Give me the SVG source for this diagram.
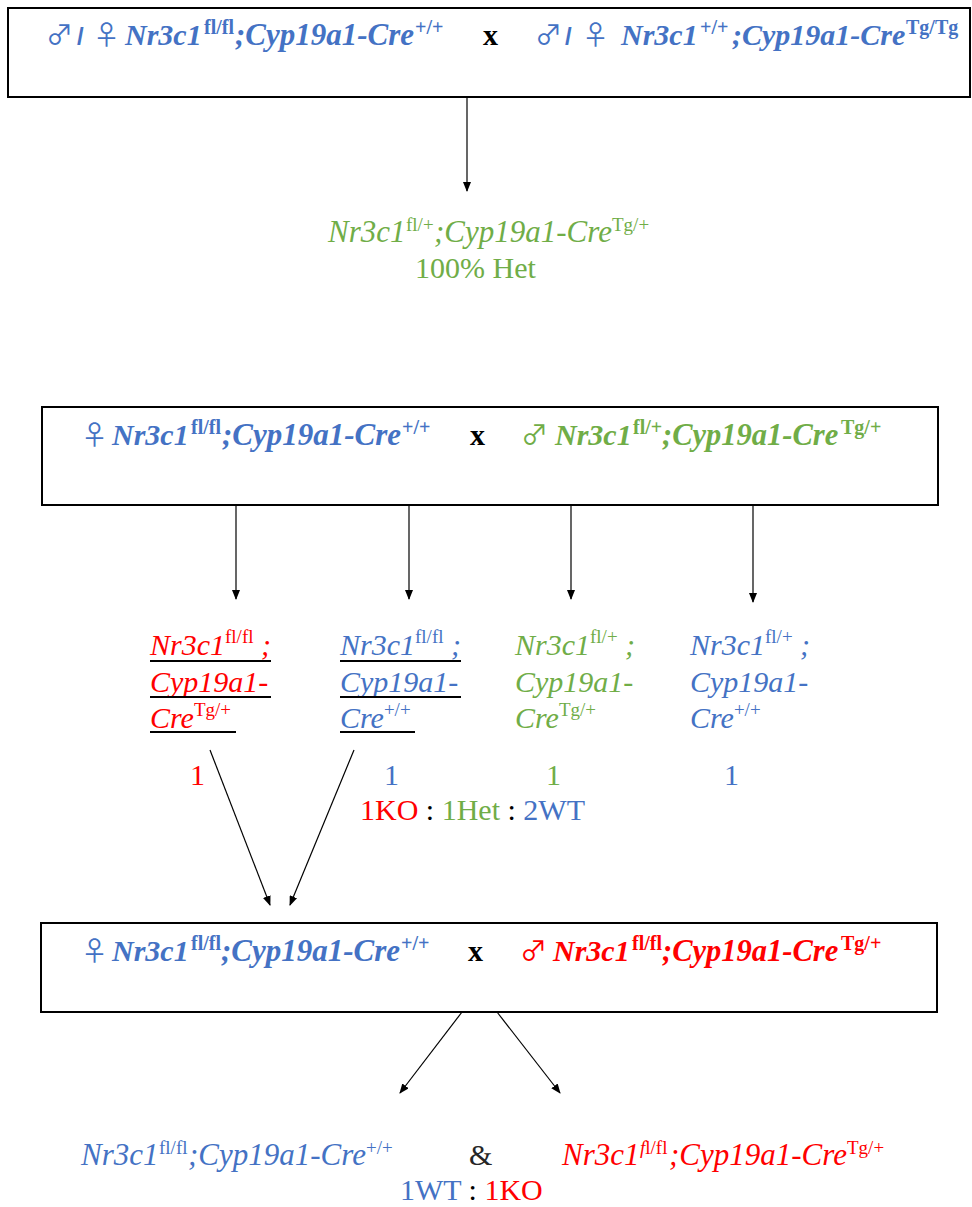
<svg xmlns="http://www.w3.org/2000/svg" width="972" height="1207" viewBox="0 0 972 1207">
<style>
.box{fill:#fff;stroke:#000;stroke-width:2}
.ln{stroke:#000;stroke-width:1.2;fill:none}
.t{font-family:"Liberation Serif","Times New Roman",serif;font-size:30px}
.h{font-size:31px}
.bi{font-weight:bold;font-style:italic}
.it{font-style:italic}
.b{font-weight:bold}
.sup{font-size:19px;font-style:normal}
.bsup{font-size:20px;font-style:normal;font-weight:bold}
.sym{font-family:"Noto Sans CJK SC","DejaVu Sans",sans-serif;font-size:27px;font-weight:normal;font-style:normal}
.sl{font-family:"Liberation Sans",Arial,sans-serif;font-size:24px;font-weight:bold;font-style:normal}
.blue{fill:#4472C4}
.green{fill:#70AD47}
.red{fill:#FF0000}
.blk{fill:#000}
.ul{stroke-width:2}
</style>
<defs>
<marker id="ah" markerWidth="10" markerHeight="8" refX="9" refY="4" orient="auto" markerUnits="userSpaceOnUse">
<path d="M0,0 L10,4 L0,8 Z" fill="#000"/>
</marker>
</defs>

<g id="cross1">
<rect class="box" x="8" y="8" width="962" height="89"/>
<text class="t blue"><tspan class="sym" x="46" y="45">♂</tspan><tspan class="sl" x="77" y="45">/</tspan><tspan class="sym" x="93" y="45">♀</tspan></text>
<text class="t bi blue"><tspan x="125" y="45">Nr3c1</tspan><tspan class="bsup" x="204" y="34">fl/fl</tspan><tspan x="235" y="45" font-size="31">;Cyp19a1-Cre</tspan><tspan class="bsup" x="415" y="34">+/+</tspan></text>
<text class="t b blk" x="483" y="45" font-size="26">x</text>
<text class="t blue"><tspan class="sym" x="535" y="45">♂</tspan><tspan class="sl" x="565" y="45">/</tspan><tspan class="sym" x="582" y="45">♀</tspan></text>
<text class="t bi blue"><tspan x="621" y="45">Nr3c1</tspan><tspan class="bsup" x="700" y="34">+/+</tspan><tspan x="732" y="45">;Cyp19a1-Cre</tspan><tspan class="bsup" x="906" y="34">Tg/Tg</tspan></text>
</g>

<g id="f1">
<text class="t h it green"><tspan x="328" y="242">Nr3c1</tspan><tspan class="sup" x="406" y="231">fl/+</tspan><tspan x="434" y="242">;Cyp19a1-Cre</tspan><tspan class="sup" x="612" y="231">Tg/+</tspan></text>
<text class="t green" x="415" y="278">100% Het</text>
</g>

<g id="cross2">
<rect class="box" x="42" y="407" width="896" height="98"/>
<text class="t blue"><tspan class="sym" x="81" y="445">♀</tspan></text>
<text class="t bi blue"><tspan x="112" y="445">Nr3c1</tspan><tspan class="bsup" x="191" y="434">fl/fl</tspan><tspan x="222" y="445" font-size="31">;Cyp19a1-Cre</tspan><tspan class="bsup" x="402" y="434">+/+</tspan></text>
<text class="t b blk" x="470" y="445" font-size="26">x</text>
<text class="t green"><tspan class="sym" x="521" y="445">♂</tspan></text>
<text class="t bi green"><tspan x="555" y="445">Nr3c1</tspan><tspan class="bsup" x="633" y="434">fl/+</tspan><tspan x="662" y="445" font-size="30.5">;Cyp19a1-Cre</tspan><tspan class="bsup" x="841" y="434">Tg/+</tspan></text>
</g>

<g id="geno1">
<text class="t it red" x="150" y="655">Nr3c1<tspan class="sup" dy="-12">fl/fl</tspan><tspan dy="12"> ;</tspan></text>
<text class="t it red" x="150" y="692">Cyp19a1-</text>
<text class="t it red" x="150" y="728">Cre<tspan class="sup" dy="-12">Tg/+</tspan></text>
<line class="ln ul" x1="150" y1="661" x2="271" y2="661" stroke="#FF0000"/>
<line class="ln ul" x1="150" y1="697" x2="271" y2="697" stroke="#FF0000"/>
<line class="ln ul" x1="150" y1="732" x2="236" y2="732" stroke="#FF0000"/>
<text class="t red" x="190" y="785">1</text>
</g>

<g id="geno2">
<text class="t it blue" x="340" y="655">Nr3c1<tspan class="sup" dy="-12">fl/fl</tspan><tspan dy="12"> ;</tspan></text>
<text class="t it blue" x="340" y="692">Cyp19a1-</text>
<text class="t it blue" x="340" y="728">Cre<tspan class="sup" dy="-12">+/+</tspan></text>
<line class="ln ul" x1="340" y1="661" x2="461" y2="661" stroke="#4472C4"/>
<line class="ln ul" x1="340" y1="697" x2="461" y2="697" stroke="#4472C4"/>
<line class="ln ul" x1="340" y1="732" x2="415" y2="732" stroke="#4472C4"/>
<text class="t blue" x="384" y="785">1</text>
</g>

<g id="geno3">
<text class="t it green" x="515" y="655">Nr3c1<tspan class="sup" dy="-12">fl/+</tspan><tspan dy="12"> ;</tspan></text>
<text class="t it green" x="515" y="692">Cyp19a1-</text>
<text class="t it green" x="515" y="728">Cre<tspan class="sup" dy="-12">Tg/+</tspan></text>
<text class="t green" x="546" y="785">1</text>
</g>

<g id="geno4">
<text class="t it blue" x="690" y="655">Nr3c1<tspan class="sup" dy="-12">fl/+</tspan><tspan dy="12"> ;</tspan></text>
<text class="t it blue" x="690" y="692">Cyp19a1-</text>
<text class="t it blue" x="690" y="728">Cre<tspan class="sup" dy="-12">+/+</tspan></text>
<text class="t blue" x="724" y="785">1</text>
</g>

<g id="ratio1">
<text class="t" x="360" y="820" font-size="30.5"><tspan class="red">1KO</tspan><tspan class="blk"> : </tspan><tspan class="green">1Het</tspan><tspan class="blk"> : </tspan><tspan class="blue">2WT</tspan></text>
</g>

<g id="cross3">
<rect class="box" x="41" y="923" width="896" height="89"/>
<text class="t blue"><tspan class="sym" x="81" y="961">♀</tspan></text>
<text class="t bi blue"><tspan x="112" y="961">Nr3c1</tspan><tspan class="bsup" x="191" y="950">fl/fl</tspan><tspan x="221" y="961" font-size="31">;Cyp19a1-Cre</tspan><tspan class="bsup" x="401" y="950">+/+</tspan></text>
<text class="t b blk" x="468" y="961" font-size="26">x</text>
<text class="t red"><tspan class="sym" x="520" y="961">♂</tspan></text>
<text class="t bi red"><tspan x="553" y="961">Nr3c1</tspan><tspan class="bsup" x="632" y="950">fl/fl</tspan><tspan x="662" y="961" font-size="30.5">;Cyp19a1-Cre</tspan><tspan class="bsup" x="841" y="950">Tg/+</tspan></text>
</g>

<g id="offspring">
<text class="t h it blue"><tspan x="81" y="1165">Nr3c1</tspan><tspan class="sup" x="159" y="1154">fl/fl</tspan><tspan x="188" y="1165">;Cyp19a1-Cre</tspan><tspan class="sup" x="366" y="1154">+/+</tspan></text>
<text class="t" x="469" y="1165" fill="#262626">&amp;</text>
<text class="t h it red"><tspan x="562" y="1165">Nr3c1</tspan><tspan class="sup" x="640" y="1154"><tspan font-style="italic">f</tspan>l/fl</tspan><tspan x="669" y="1165">;Cyp19a1-Cre</tspan><tspan class="sup" x="847" y="1154">Tg/+</tspan></text>
<text class="t" x="400" y="1200" font-size="30.5"><tspan class="blue">1WT</tspan><tspan class="blk"> : </tspan><tspan class="red">1KO</tspan></text>
</g>

<g id="connectors">
<line class="ln" x1="467" y1="97" x2="467" y2="191" marker-end="url(#ah)"/>
<line class="ln" x1="236" y1="505" x2="236" y2="599" marker-end="url(#ah)"/>
<line class="ln" x1="409" y1="505" x2="409" y2="599" marker-end="url(#ah)"/>
<line class="ln" x1="571" y1="505" x2="571" y2="599" marker-end="url(#ah)"/>
<line class="ln" x1="753" y1="505" x2="753" y2="602" marker-end="url(#ah)"/>
<line class="ln" x1="210" y1="750" x2="270" y2="905" marker-end="url(#ah)"/>
<line class="ln" x1="354" y1="750" x2="290" y2="905" marker-end="url(#ah)"/>
<line class="ln" x1="462" y1="1012" x2="400" y2="1093" marker-end="url(#ah)"/>
<line class="ln" x1="497" y1="1012" x2="560" y2="1093" marker-end="url(#ah)"/>
</g>
</svg>
